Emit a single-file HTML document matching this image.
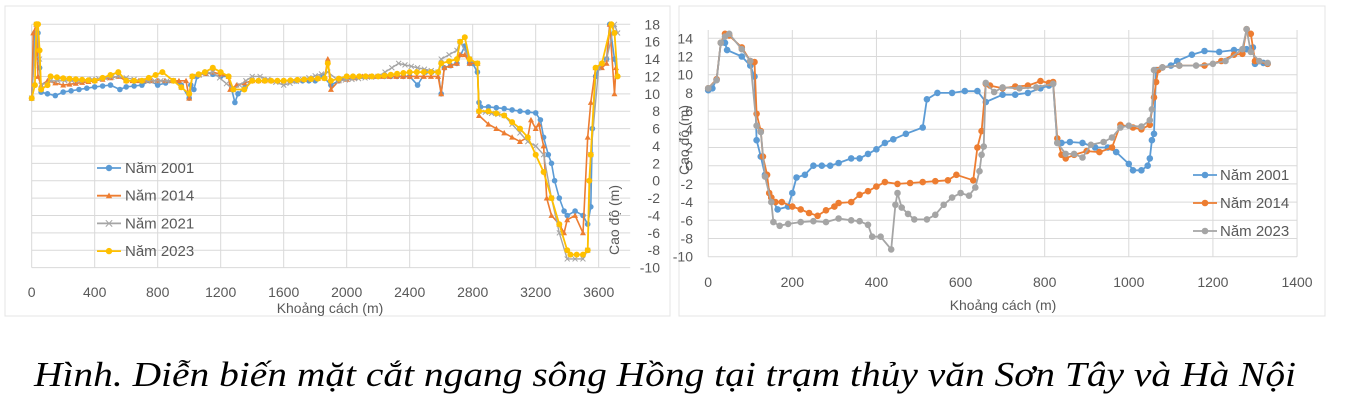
<!DOCTYPE html>
<html><head><meta charset="utf-8">
<style>
html,body{margin:0;padding:0;background:#fff;}
svg{display:block;}
text{font-family:"Liberation Sans",sans-serif;fill:#595959;}
</style></head>
<body>
<svg id="s" width="1348" height="419" xmlns="http://www.w3.org/2000/svg">
<rect x="5" y="6" width="665" height="310" fill="none" stroke="#e4e4e4"/>
<rect x="679" y="6" width="646" height="310" fill="none" stroke="#e4e4e4"/>
<g id="g"></g>
<text x="665" y="386" text-anchor="middle" textLength="1262" lengthAdjust="spacingAndGlyphs" style="font-family:'Liberation Serif',serif;font-style:italic;font-size:35px;fill:#000">Hình. Diễn biến mặt cắt ngang sông Hồng tại trạm thủy văn Sơn Tây và Hà Nội</text>
</svg>
<script>
var g=document.getElementById('g'),h='';
function L(a,b,c,d,col,w){h+='<line x1="'+a+'" y1="'+b+'" x2="'+c+'" y2="'+d+'" stroke="'+col+'" stroke-width="'+(w||1)+'"/>';}
function T(x,y,s,anc,fs,extra){h+='<text x="'+x+'" y="'+y+'" text-anchor="'+(anc||'middle')+'" font-size="'+(fs||14)+'" '+(extra||'')+'>'+s+'</text>';}
var C={b:'#5B9BD5',o:'#ED7D31',g:'#A5A5A5',y:'#FFC000'};
function series(d,fx,fy,col,mk,r,w){
 var p=[];for(var i=0;i<d.length;i+=2)p.push([fx(d[i]),fy(d[i+1])]);
 h+='<polyline fill="none" stroke="'+col+'" stroke-width="'+w+'" stroke-linejoin="round" points="'+p.map(function(q){return q[0].toFixed(1)+','+q[1].toFixed(1)}).join(' ')+'"/>';
 p.forEach(function(q){
  if(mk=='c')h+='<circle cx="'+q[0].toFixed(1)+'" cy="'+q[1].toFixed(1)+'" r="'+r+'" fill="'+col+'"/>';
  else if(mk=='t')h+='<polygon points="'+q[0]+','+(q[1]-r)+' '+(q[0]-r)+','+(q[1]+r*0.8)+' '+(q[0]+r)+','+(q[1]+r*0.8)+'" fill="'+col+'"/>';
  else if(mk=='x')h+='<path d="M'+(q[0]-r)+' '+(q[1]-r)+'L'+(q[0]+r)+' '+(q[1]+r)+'M'+(q[0]-r)+' '+(q[1]+r)+'L'+(q[0]+r)+' '+(q[1]-r)+'" stroke="'+col+'" stroke-width="1"/>';
 });
}
// LEFT chart
var lx=function(m){return 31.7+m*0.1575;}, ly=function(v){return 24.3+(18-v)*8.69;};
for(var v=18;v>=-10;v-=2){L(31.7,ly(v),lx(3800),ly(v),'#d9d9d9');T(660,ly(v)+5,v,'end',14);}
for(var m=0;m<=3800;m+=400){L(lx(m),24.3,lx(m),ly(-10),'#d9d9d9');if(m<3800)T(lx(m),297,m,'middle',14);}
T(330,313,'Khoảng cách (m)','middle',14);
T(0,0,'Cao độ (m)','middle',14,'transform="translate(619,220) rotate(-90)"');
var s01=[0,9.5,20,17,40,17,50,13,60,10.2,100,10,150,9.8,200,10.2,300,10.5,400,10.8,500,11,560,10.5,600,10.8,700,11,750,11.5,800,11,900,11.5,950,11,1000,9.5,1010,11,1030,10.5,1050,12,1100,12.5,1200,12,1250,12,1290,9,1310,10,1400,11.5,1600,11.5,1800,11.5,1850,12,1900,11,1950,11.5,2000,12,2200,12,2400,12,2450,11,2500,12.5,2580,12.5,2600,10,2620,13,2700,13.5,2750,15.5,2780,13.5,2800,13.5,2830,12.5,2840,9,2850,8.5,2900,8.5,3000,8.3,3100,8,3200,7.8,3230,7,3250,5,3280,3,3300,2,3320,0,3350,-2,3380,-3.5,3400,-4,3450,-3.5,3500,-4,3530,-5,3550,-3,3560,6,3580,12,3600,13,3650,14,3670,18,3700,14,3720,12];
var s14=[0,9.5,10,17,30,18,40,12,60,11,100,11.5,200,11,400,11.5,550,12,600,11.5,800,11.5,980,11.5,1000,9.5,1020,12,1150,12.5,1250,12,1260,10.5,1300,11,1400,11.5,1600,11.5,1860,11.8,1880,14,1900,10.5,1950,11.5,2100,12,2400,12,2580,12,2600,10,2620,13,2700,13.5,2720,14.5,2750,14.5,2780,13.5,2830,13.5,2840,7.5,2900,6.5,3000,5.5,3100,4.5,3150,5,3170,7,3200,6,3220,6.5,3250,4,3270,-2,3300,-4,3350,-5,3380,-6,3400,-4.5,3450,-4,3500,-6,3530,5,3550,9,3580,13,3620,13,3650,13.5,3670,18,3700,10,3710,13];
var s21=[0,9.5,30,18,50,14,60,11,120,11.5,300,11.5,550,12,700,11.5,900,11.5,1000,10,1020,12,1150,12.5,1280,10.5,1400,12,1450,12,1600,11,1880,12.5,1950,11.5,2200,12,2330,13.5,2450,13,2580,12.5,2600,14,2700,15,2720,16,2780,14,2830,13.5,2840,8,3000,7.5,3150,4.5,3200,4,3250,3,3300,-2,3350,-6,3400,-9,3450,-9,3500,-9,3530,-8,3550,3,3600,13,3650,14,3700,18,3720,17];
var s23=[0,9.5,20,11,30,18,40,18,50,15,60,10.5,100,11,120,12,200,11.8,400,11.5,550,12.5,600,11.5,700,11.5,830,12.5,900,11.5,1000,10,1020,12,1100,12.5,1150,13,1250,12,1280,10.5,1350,10.5,1400,11.5,1600,11.5,1860,11.8,1880,13.5,1900,11.5,2000,12,2200,12,2400,12.5,2580,12.5,2600,13.5,2700,14,2720,16,2750,16.5,2780,14,2830,13.5,2840,8,2900,8,3000,7.5,3100,6,3150,5,3200,3,3250,1,3300,-2,3350,-5,3400,-8,3420,-8.5,3500,-8.5,3530,-8,3540,0,3550,3,3580,13,3620,13.5,3680,18,3700,17,3720,12];
function dens(d){var o=[];for(var i=0;i<d.length-2;i+=2){o.push(d[i],d[i+1]);var dx=d[i+2]-d[i];if(dx>60){var n=Math.floor(dx/40);for(var k=1;k<n;k++){o.push(d[i]+dx*k/n,d[i+1]+(d[i+3]-d[i+1])*k/n);}}}o.push(d[d.length-2],d[d.length-1]);return o;}
series(dens(s01),lx,ly,C.b,'c',2.8,1.6);
series(dens(s14),lx,ly,C.o,'t',3,1.6);
series(dens(s21),lx,ly,C.g,'x',2.5,1.4);
series(dens(s23),lx,ly,C.y,'c',3,1.8);
var leg=[['Năm 2001',C.b,'c'],['Năm 2014',C.o,'t'],['Năm 2021',C.g,'x'],['Năm 2023',C.y,'c']];
leg.forEach(function(e,i){var y=168+i*27.7;L(97,y,121,y,e[1],1.8);series([0,0],function(){return 109},function(){return y},e[1],e[2],3.2,1);T(125,y+5,e[0],'start',15);});
// RIGHT chart
var rx=function(m){return 708.2+m*0.4206;}, ry=function(v){return 38.3+(14-v)*9.1;};
for(var v=14;v>=-10;v-=2){L(708.2,ry(v),rx(1400),ry(v),'#d9d9d9');T(693,ry(v)+5,v,'end',14);}
for(var m=0;m<=1400;m+=200){L(rx(m),30,rx(m),ry(-10),'#d9d9d9');T(rx(m),287,m,'middle',14);}
T(1003,310,'Khoảng cách (m)','middle',14);
T(0,0,'Cao độ (m)','middle',14,'transform="translate(689,140) rotate(-90)"');
var h01=[0,8.3,10,8.5,20,9.5,30,13.5,40,13.5,45,12.7,80,12,100,11,110,9.8,115,2.8,125,1,135,-1,150,-3.5,165,-4.8,190,-4.5,200,-3,210,-1.3,230,-1,250,0,270,0,290,0,310,0.3,340,0.8,360,0.8,380,1.3,400,1.8,420,2.5,440,2.9,470,3.5,510,4.2,520,7.3,545,8,580,8,610,8.2,640,8.2,660,7,700,7.8,730,7.8,760,8,790,8.5,810,8.8,820,9,830,2.5,840,2.5,860,2.6,890,2.5,920,2,950,2,970,1.5,1000,0.2,1010,-0.5,1030,-0.5,1045,0,1050,0.8,1055,2.8,1060,3.5,1065,10.5,1080,10.8,1100,11,1115,11.5,1150,12.2,1180,12.6,1215,12.5,1250,12.7,1280,12.8,1295,13,1300,11.2,1320,11.3,1330,11.2];
var h14=[0,8.5,20,9.5,30,13.5,40,14.5,50,14.3,80,13,100,11.5,110,11.4,115,5.7,125,3.8,130,1,140,-1,145,-3,150,-3.5,160,-4,175,-4,200,-4.5,220,-4.8,240,-5.2,260,-5.5,280,-4.9,300,-4.5,310,-4.1,340,-4,360,-3.2,380,-2.8,400,-2.3,420,-1.8,450,-2,480,-1.9,510,-1.8,540,-1.7,570,-1.6,590,-1,630,-1.6,640,2,650,3.8,660,9,670,8.8,700,8.5,730,8.7,760,8.8,790,9.3,810,9.1,820,9.2,830,3,840,1.2,850,0.8,870,1.2,900,1.6,930,1.5,960,2,980,4.5,1010,4.2,1030,4,1050,4.5,1060,7.5,1065,9.2,1070,10.5,1080,10.8,1120,11,1180,11,1220,11.5,1250,12.2,1270,12.3,1280,15,1290,14.5,1300,11.5,1330,11.2];
var h23=[0,8.5,20,9.4,30,13.5,40,14.2,50,14.5,80,12.8,100,11.5,115,4.4,125,3.7,135,-1.2,150,-4,155,-6.2,170,-6.6,190,-6.4,220,-6.2,250,-6.1,280,-6.2,310,-5.8,340,-6,360,-6.1,380,-6.5,390,-7.8,410,-7.8,435,-9.2,445,-4.3,450,-3,460,-4.6,475,-5.3,490,-5.9,520,-5.9,540,-5.4,560,-4.3,580,-3.5,600,-3,620,-3.3,635,-2.4,645,-0.6,650,1.2,655,2.1,660,9.1,680,8.1,700,8.6,740,8.5,780,8.6,820,9,830,2.5,850,1.3,870,1.3,890,0.9,910,2.3,940,2.6,960,3.1,980,4.2,1000,4.4,1030,4.3,1050,5,1055,6.2,1060,10.5,1080,10.8,1120,11,1160,11,1200,11.2,1230,11.5,1270,12.8,1280,15,1290,12.5,1310,11.5,1330,11.3];
series(h01,rx,ry,C.b,'c',3.3,1.8);
series(h14,rx,ry,C.o,'c',3.3,1.8);
series(h23,rx,ry,C.g,'c',3.3,1.8);
[['Năm 2001',C.b],['Năm 2014',C.o],['Năm 2023',C.g]].forEach(function(e,i){var y=175+i*28;L(1193,y,1217,y,e[1],1.8);h+='<circle cx="1205" cy="'+y+'" r="3.3" fill="'+e[1]+'"/>';T(1220,y+5,e[0],'start',15);});
g.innerHTML=h;
</script>
</body></html>
